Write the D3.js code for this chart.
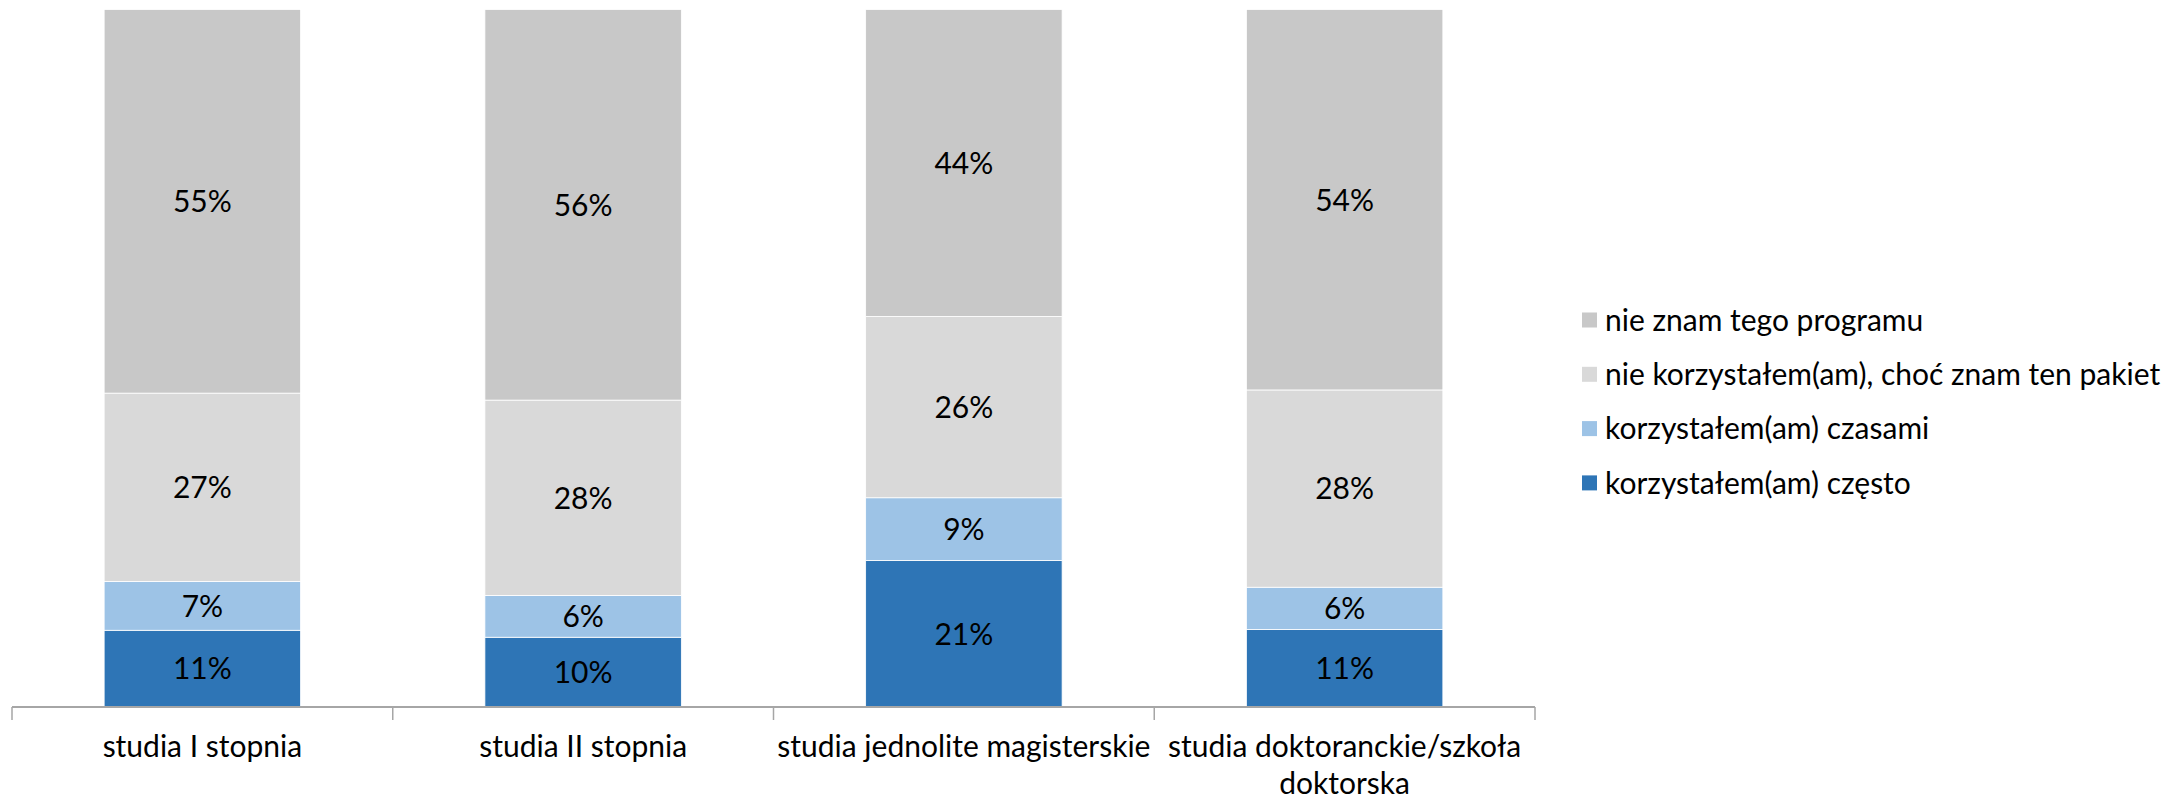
<!DOCTYPE html>
<html><head><meta charset="utf-8">
<script src="https://cdn.jsdelivr.net/npm/d3@7"></script>
<style>html,body{margin:0;padding:0;background:#fff;}svg{display:block;}</style>
</head><body>
<svg id="chart" width="2182" height="801"></svg>
<script>
const categories = ["studia I stopnia", "studia II stopnia", "studia jednolite magisterskie", "studia doktoranckie/szkoła doktorska"];
const seriesNames = ["korzystałem(am) często", "korzystałem(am) czasami", "nie korzystałem(am), choć znam ten pakiet", "nie znam tego programu"];
const often = [11, 10, 21, 11];
const sometimes = [7, 6, 9, 6];
const knownNotUsed = [27, 28, 26, 28];
const unknown = [55, 56, 44, 54];
const colors = ["#2E75B6", "#9DC3E6", "#D9D9D9", "#C8C8C8"];

const FONT = "Lato, 'Liberation Sans', sans-serif";
const FS = 30;
const svg = d3.select("#chart");
const margin = {left: 12, right: 2182 - 1535, top: 9.5, bottom: 801 - 707};
const W = 2182, H = 801;

const table = categories.map((c, i) => {
  const vals = [often[i], sometimes[i], knownNotUsed[i], unknown[i]];
  const tot = d3.sum(vals);
  const row = {cat: c};
  seriesNames.forEach((s, k) => { row[s] = vals[k] / tot; row["raw_" + k] = vals[k]; });
  return row;
});
const stacked = d3.stack().keys(seriesNames)(table);

const x = d3.scaleBand().domain(categories).range([margin.left, W - margin.right]).paddingInner(0.484).paddingOuter(0.242);
const y = d3.scaleLinear().domain([0, 1]).range([H - margin.bottom, margin.top]);

const g = svg.append("g");
stacked.forEach((layer, k) => {
  const lg = g.append("g");
  lg.selectAll("rect").data(layer).join("rect")
    .attr("x", d => x(d.data.cat))
    .attr("width", x.bandwidth())
    .attr("y", d => y(d[1]))
    .attr("height", d => y(d[0]) - y(d[1]))
    .attr("fill", colors[k])
    .attr("stroke", "#ffffff").attr("stroke-width", 0.8);
  lg.selectAll("text").data(layer).join("text")
    .attr("x", d => x(d.data.cat) + x.bandwidth() / 2)
    .attr("y", d => (y(d[0]) + y(d[1])) / 2)
    .attr("dy", "0.36em")
    .attr("text-anchor", "middle")
    .attr("font-family", FONT).attr("font-size", FS).attr("fill", "#000")
    .text(d => d.data["raw_" + k] + "%");
});

// x axis
const axisY = H - margin.bottom;
const axisG = svg.append("g").attr("transform", `translate(0,${axisY})`);
axisG.append("line").attr("x1", margin.left).attr("x2", W - margin.right).attr("y1", 0).attr("y2", 0)
  .attr("stroke", "#A6A6A6").attr("stroke-width", 2);
const step = x.step();
const tickPos = d3.range(categories.length + 1).map(i => margin.left + i * step);
axisG.selectAll("line.tick").data(tickPos).join("line").attr("class", "tick")
  .attr("x1", d => d).attr("x2", d => d).attr("y1", 0).attr("y2", 13)
  .attr("stroke", "#A6A6A6").attr("stroke-width", 1.5);

function wrap(textSel, width) {
  textSel.each(function() {
    const t = d3.select(this);
    const words = t.text().split(/\s+/);
    t.text(null);
    let line = [];
    const cx = +t.attr("x");
    let tspan = t.append("tspan").attr("x", cx).attr("dy", 0);
    words.forEach(w => {
      line.push(w);
      tspan.text(line.join(" "));
      if (tspan.node().getComputedTextLength() > width && line.length > 1) {
        line.pop();
        tspan.text(line.join(" "));
        line = [w];
        tspan = t.append("tspan").attr("x", cx).attr("dy", 37).text(w);
      }
    });
  });
}
axisG.selectAll("text.cat").data(categories).join("text").attr("class", "cat")
  .attr("x", d => x(d) + x.bandwidth() / 2)
  .attr("y", 50)
  .attr("text-anchor", "middle")
  .attr("font-family", FONT).attr("font-size", FS).attr("fill", "#000")
  .text(d => d)
  .call(wrap, step + 10);

// legend
const legendOrder = seriesNames.map((s, k) => ({s, k})).reverse();
const leg = svg.append("g");
const legY0 = 320, legStep = 54.3;
legendOrder.forEach((d, i) => {
  const cy = legY0 + i * legStep;
  leg.append("rect").attr("x", 1582).attr("y", cy - 7.5).attr("width", 15).attr("height", 15).attr("fill", colors[d.k]);
  leg.append("text").attr("x", 1605).attr("y", cy).attr("dy", "0.36em")
    .attr("font-family", FONT).attr("font-size", FS).attr("fill", "#000").text(d.s);
});
</script>
</body></html>
